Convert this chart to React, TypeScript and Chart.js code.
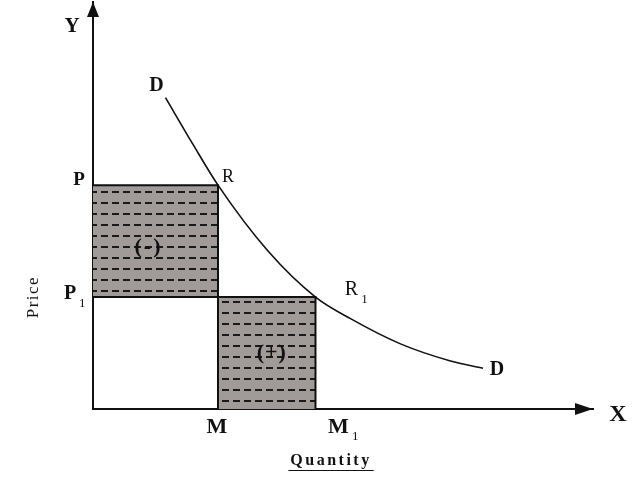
import React, { useEffect, useRef } from "react";
import { Chart, registerables } from "chart.js";

Chart.register(...registerables);

// Axis extents (data units)
const xRange = [0, 10];
const yRange = [0, 10];

// Price levels P and P1, quantities M and M1
const priceLevels = [5.5, 2.75];
const quantityLevels = [2.5, 4.45];

// Demand curve D–D
const demandQ = [1.45, 2.0, 2.5, 3.5, 4.45, 5.15, 6.15, 7.15, 7.8];
const demandP = [7.65, 6.5, 5.5, 3.88, 2.75, 2.22, 1.6, 1.18, 1.0];

const FONT = "'Liberation Serif', 'DejaVu Serif', 'Times New Roman', serif";

type Lbl = {
  text: string;
  sub?: string;
  ax: number;
  ay: number;
  dx: number;
  dy: number;
  font: string;
  sp?: number;
  rotate?: boolean;
  underline?: boolean;
};

const [P, P1] = priceLevels;
const [M, M1] = quantityLevels;
const last = demandQ.length - 1;

const labels: Lbl[] = [
  { text: "Y", ax: xRange[0], ay: yRange[1], dx: -21, dy: 25, font: `bold 21px ${FONT}` },
  { text: "X", ax: xRange[1], ay: yRange[0], dx: 25, dy: 6, font: `bold 24px ${FONT}` },
  { text: "P", ax: xRange[0], ay: P, dx: -14, dy: -5, font: `bold 19px ${FONT}` },
  { text: "P", sub: "1", ax: xRange[0], ay: P1, dx: -23, dy: -3, font: `bold 20px ${FONT}` },
  { text: "M", ax: M, ay: yRange[0], dx: -1, dy: 18, font: `bold 22px ${FONT}` },
  { text: "M", sub: "1", ax: M1, ay: yRange[0], dx: 23, dy: 18, font: `bold 22px ${FONT}` },
  { text: "D", ax: demandQ[0], ay: demandP[0], dx: -9, dy: -12, font: `bold 20px ${FONT}` },
  { text: "R", ax: M, ay: P, dx: 10, dy: -8, font: `18px ${FONT}` },
  { text: "R", sub: "1", ax: M1, ay: P1, dx: 36, dy: -7, font: `20px ${FONT}` },
  { text: "D", ax: demandQ[last], ay: demandP[last], dx: 14, dy: 2, font: `bold 20px ${FONT}` },
  { text: "(-)", ax: M / 2, ay: (P + P1) / 2, dx: -7, dy: 6, font: `bold 22px ${FONT}`, sp: 2 },
  { text: "(+)", ax: (M + M1) / 2, ay: P1 / 2, dx: 5, dy: 0, font: `bold 22px ${FONT}`, sp: 1 },
  { text: "Quantity", ax: (xRange[0] + xRange[1]) / 2, ay: yRange[0], dx: -12, dy: 52, font: `bold 16px ${FONT}`, sp: 2.5, underline: true },
  { text: "Price", ax: xRange[0], ay: P1, dx: -59, dy: 0, font: `17px ${FONT}`, sp: 1.5, rotate: true },
];

const annotatePlugin = {
  id: "annotate",
  afterDraw(chart: any) {
    const { ctx, chartArea, scales } = chart;
    const xs = scales.x;
    const ys = scales.y;
    ctx.save();
    ctx.fillStyle = "#111";
    ctx.strokeStyle = "#111";
    // arrowheads
    ctx.beginPath();
    ctx.moveTo(chartArea.left, chartArea.top);
    ctx.lineTo(chartArea.left - 6, chartArea.top + 15);
    ctx.lineTo(chartArea.left + 6, chartArea.top + 15);
    ctx.closePath();
    ctx.fill();
    ctx.beginPath();
    ctx.moveTo(chartArea.right, chartArea.bottom);
    ctx.lineTo(chartArea.right - 18, chartArea.bottom - 6);
    ctx.lineTo(chartArea.right - 18, chartArea.bottom + 6);
    ctx.closePath();
    ctx.fill();

    ctx.textAlign = "center";
    ctx.textBaseline = "middle";
    for (const l of labels) {
      const cx = xs.getPixelForValue(l.ax) + l.dx;
      const cy = ys.getPixelForValue(l.ay) + l.dy;
      ctx.font = l.font;
      (ctx as any).letterSpacing = `${l.sp || 0}px`;
      if (l.rotate) {
        ctx.save();
        ctx.translate(cx, cy);
        ctx.rotate(-Math.PI / 2);
        ctx.fillText(l.text, 0, 0);
        ctx.restore();
      } else {
        ctx.fillText(l.text, cx, cy);
      }
      const w = ctx.measureText(l.text).width;
      if (l.sub) {
        ctx.font = `13px ${FONT}`;
        (ctx as any).letterSpacing = "0px";
        ctx.textAlign = "left";
        ctx.fillText(l.sub, cx + w / 2 + 3, cy + 10);
        ctx.textAlign = "center";
      }
      if (l.underline) {
        ctx.lineWidth = 1;
        ctx.beginPath();
        ctx.moveTo(cx - w / 2 - 2, cy + 9.5);
        ctx.lineTo(cx + w / 2 + 2, cy + 9.5);
        ctx.stroke();
      }
    }
    (ctx as any).letterSpacing = "0px";
    ctx.restore();
  },
};

function makePattern(): CanvasPattern | string {
  const c = document.createElement("canvas");
  c.width = 11;
  c.height = 11;
  const g = c.getContext("2d");
  if (!g) return "#a09a99";
  g.fillStyle = "#a09a99";
  g.fillRect(0, 0, 11, 11);
  g.fillStyle = "#1a1a1a";
  g.fillRect(2, 4, 7, 2);
  return g.createPattern(c, "repeat") || "#a09a99";
}

export default function App() {
  const ref = useRef<HTMLCanvasElement | null>(null);

  useEffect(() => {
    if (!ref.current) return;
    const pattern = makePattern();
    const outline = {
      type: "line" as const,
      borderColor: "#111",
      borderWidth: 2,
      pointRadius: 0,
      fill: false,
      tension: 0,
    };
    const chart = new Chart(ref.current, {
      type: "line",
      data: {
        datasets: [
          {
            label: "D",
            data: demandQ.map((q, i) => ({ x: q, y: demandP[i] })),
            borderColor: "#111",
            borderWidth: 1.6,
            pointRadius: 0,
            fill: false,
            cubicInterpolationMode: "monotone",
            order: 0,
          },
          {
            ...outline,
            label: "box1",
            data: [
              { x: xRange[0], y: P },
              { x: M, y: P },
              { x: M, y: P1 },
              { x: xRange[0], y: P1 },
            ],
            order: 1,
          },
          {
            ...outline,
            label: "box2",
            data: [
              { x: M, y: yRange[0] },
              { x: M, y: P1 },
              { x: M1, y: P1 },
              { x: M1, y: yRange[0] },
            ],
            order: 1,
          },
          {
            label: "loss",
            data: [
              { x: xRange[0], y: P },
              { x: M, y: P },
            ],
            borderWidth: 0,
            borderColor: "rgba(0,0,0,0)",
            pointRadius: 0,
            backgroundColor: pattern as any,
            fill: { value: P1 },
            order: 2,
          },
          {
            label: "gain",
            data: [
              { x: M, y: P1 },
              { x: M1, y: P1 },
            ],
            borderWidth: 0,
            borderColor: "rgba(0,0,0,0)",
            pointRadius: 0,
            backgroundColor: pattern as any,
            fill: { value: yRange[0] },
            order: 2,
          },
        ],
      },
      options: {
        responsive: false,
        animation: false,
        devicePixelRatio: 1,
        events: [],
        layout: { padding: { top: 2, right: 47, bottom: 0, left: 0 } },
        plugins: {
          legend: { display: false },
          tooltip: { enabled: false },
        },
        scales: {
          x: {
            type: "linear",
            min: xRange[0],
            max: xRange[1],
            grid: { display: false },
            ticks: { display: false },
            border: { display: true, color: "#111", width: 2 },
            afterFit: (s: any) => {
              s.height = 71;
            },
          },
          y: {
            type: "linear",
            min: yRange[0],
            max: yRange[1],
            grid: { display: false },
            ticks: { display: false },
            border: { display: true, color: "#111", width: 2 },
            afterFit: (s: any) => {
              s.width = 93;
            },
          },
        },
      },
      plugins: [annotatePlugin],
    } as any);
    return () => chart.destroy();
  }, []);

  return (
    <div style={{ position: "absolute", left: 0, top: 0, width: 640, height: 480, background: "#fff" }}>
      <canvas ref={ref} width={640} height={480} />
    </div>
  );
}
